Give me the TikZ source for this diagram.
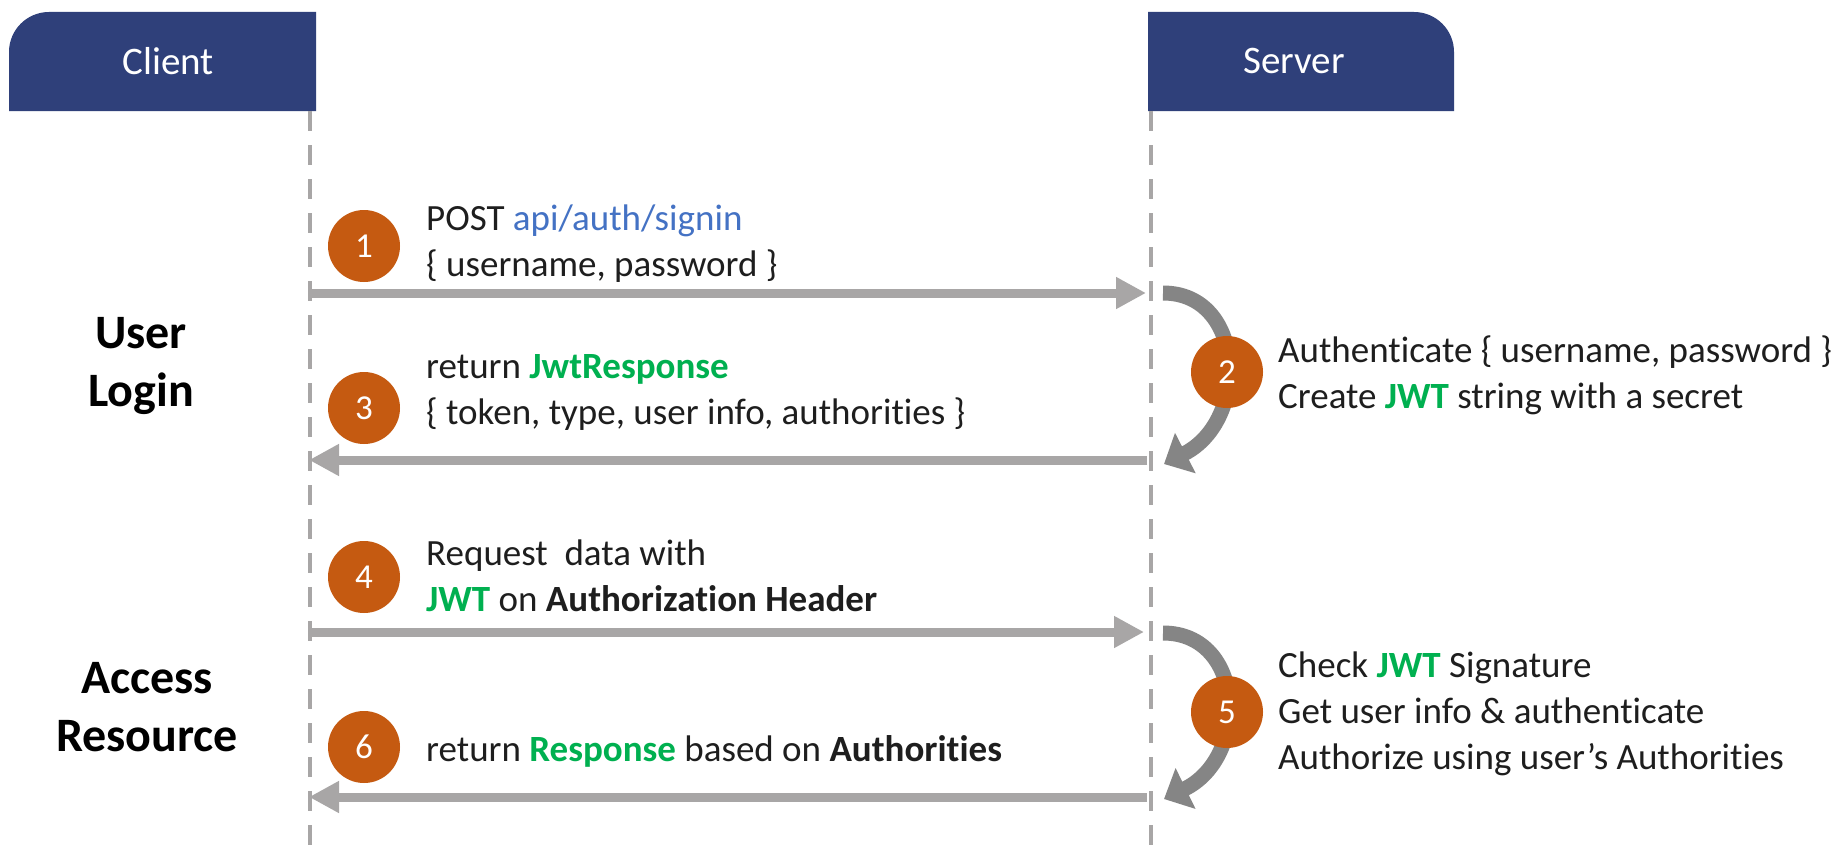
\documentclass[tikz,border=0pt]{standalone}
\usepackage{fontspec}
\setmainfont{Carlito}[Ligatures=NoCommon]
\usetikzlibrary{arrows.meta}

\definecolor{tabblue}{HTML}{2F407A}
\definecolor{badgeorange}{HTML}{C55A11}
\definecolor{jwtgreen}{HTML}{00B050}
\definecolor{linkblue}{HTML}{4472C4}
\definecolor{flowgray}{HTML}{A8A6A6}
\definecolor{loopgray}{HTML}{858585}
\definecolor{ink}{HTML}{1E1E1E}

\newcommand{\jwtword}{\textcolor{jwtgreen}{\textbf{JWT}}}

\begin{document}
\begin{tikzpicture}[x=1pt,y=-1pt,
  lifeline/.style={draw=flowgray, line width=3.5pt, dash pattern=on 20pt off 14pt},
  msg/.style={draw=flowgray, line width=9pt, -{Triangle[length=30pt,width=30pt]}},
  loopback/.style={draw=loopgray, line width=15pt, -{Triangle[length=24pt,width=44pt]}},
  badge/.style={circle, fill=badgeorange, text=white, minimum size=72pt, inner sep=0pt,
    font=\fontsize{35}{35}\selectfont},
  tab/.style={fill=tabblue},
  tabtext/.style={text=white, inner sep=0pt, font=\fontsize{39}{39}\selectfont},
  note/.style={anchor=west, align=left, text=ink, inner sep=0pt,
    font=\fontsize{37}{46}\selectfont},
  phase/.style={align=center, text=black, inner sep=0pt,
    font=\fontsize{48}{58}\selectfont\bfseries}
]
\useasboundingbox (0,0) rectangle (1839,851);
\fill[white] (0,0) rectangle (1839,851);

% header tabs
\fill[tab] (9,111) [rounded corners=40pt] -- (9,12) [sharp corners] -- (316,12) -- (316,111) -- cycle;
\fill[tab] (1148,111) -- (1148,12) [rounded corners=40pt] -- (1454,12) [sharp corners] -- (1454,111) -- cycle;
\node[tabtext] (client) at (168,61) {Client};
\node[tabtext] (server) at (1294,61) {Server};

% lifelines
\coordinate (cTop) at (310,111);
\coordinate (cBot) at (310,851);
\coordinate (sTop) at (1151,111);
\coordinate (sBot) at (1151,851);
\draw[lifeline] (cTop) -- (cBot);
\draw[lifeline] (sTop) -- (sBot);

% message end points on the lifelines
\coordinate (c1) at (310,293);  \coordinate (s1) at (1146,293);
\coordinate (c3) at (309,460);  \coordinate (s3) at (1147,460);
\coordinate (c4) at (310,632);  \coordinate (s4) at (1144,632);
\coordinate (c6) at (309,797);  \coordinate (s6) at (1147,797);

% messages
\draw[msg] (c1) -- (s1);
\draw[msg] (s3) -- (c3);
\draw[msg] (c4) -- (s4);
\draw[msg] (s6) -- (c6);

% server-side processing loops
\coordinate (l2s) at (1163,293);
\coordinate (l2e) at (1164,464);
\coordinate (l5s) at (1163,633);
\coordinate (l5e) at (1164,799);
\draw[loopback] (l2s) .. controls (1245,293) and (1250,420) .. (l2e);
\draw[loopback] (l5s) .. controls (1245,633) and (1250,757) .. (l5e);

% step badges
\node[badge] (b1) at (364,246) {1};
\node[badge] (b2) at (1227,372) {2};
\node[badge] (b3) at (364,408) {3};
\node[badge] (b4) at (364,577) {4};
\node[badge] (b5) at (1227,712) {5};
\node[badge] (b6) at (364,747) {6};

% phase labels
\node[phase] (login) at (141,366) {User\\Login};
\node[phase] (access) at (147,707) {Access\\Resource};

% step descriptions
\node[note] (t1) at (426,244) {POST \textcolor{linkblue}{api/auth/signin}\\\{ username, password \}};
\node[note] (t2) at (1278,375) {Authenticate \{ username, password \}\\Create \jwtword{} string with a secret};
\node[note] (t3) at (426,392) {return \textcolor{jwtgreen}{\textbf{JwtResponse}}\\\{ token, type, user info, authorities \}};
\node[note] (t4) at (426,576) {Request\ \ data with\\\jwtword{} on \textbf{Authorization Header}};
\node[note] (t5) at (1278,714) {Check \jwtword{} Signature\\Get user info \& authenticate\\Authorize using user’s Authorities};
\node[note] (t6) at (426,751) {return \textcolor{jwtgreen}{\textbf{Response}} based on \textbf{Authorities}};
\end{tikzpicture}
\end{document}
